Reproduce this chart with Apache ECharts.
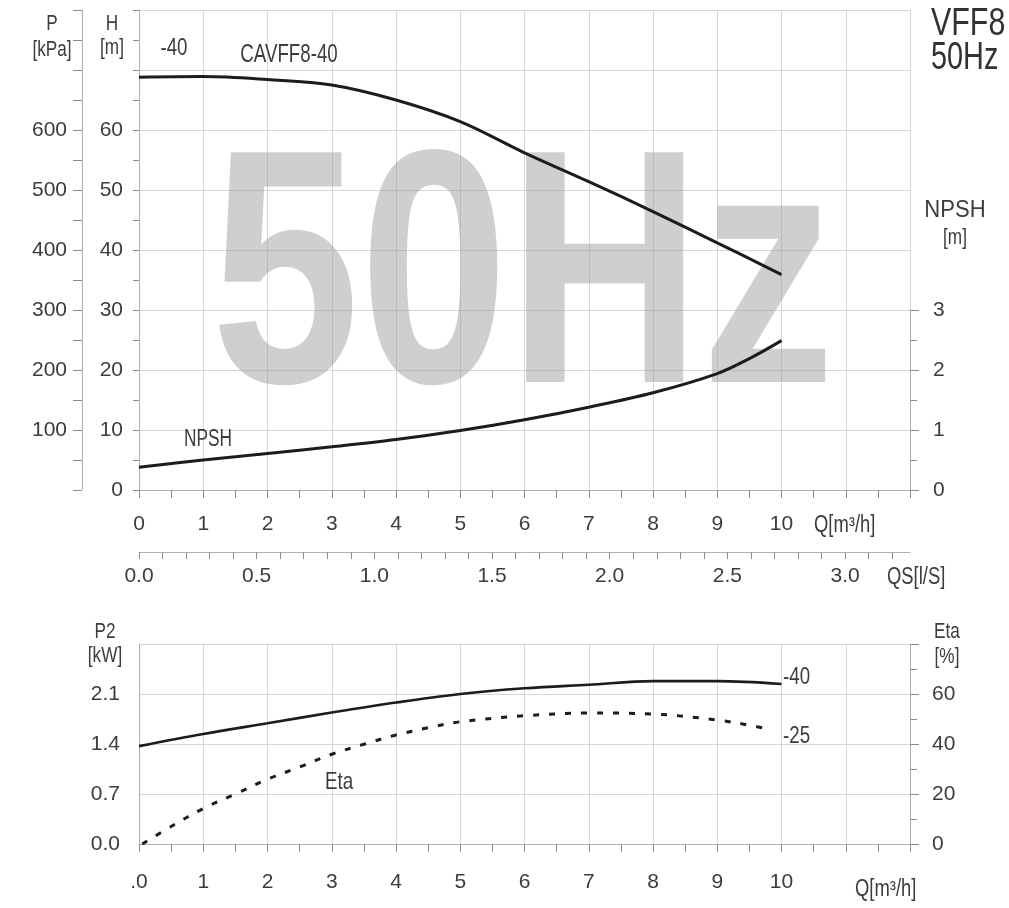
<!DOCTYPE html>
<html>
<head>
<meta charset="utf-8">
<script src="https://cdn.jsdelivr.net/npm/echarts@6/dist/echarts.min.js"></script>
<style>html,body{margin:0;padding:0;background:#fff;}#c{width:1009px;height:908px;}</style>
</head>
<body>
<div id="c"></div>
<script>
// ---- data ----
const Q_TICKS = [0,1,2,3,4,5,6,7,8,9,10];
const H_Q = [0,1,2,3,4,5,6,7,8,9,10];
const H_VAL = [68.8, 68.9, 68.4, 67.5, 65.0, 61.4, 56.2, 51.4, 46.4, 41.2, 35.9];
const NPSH_Q = [0,1,2,3,4,5,6,7,8,9,9.5,10];
const NPSH_VAL = [0.38, 0.50, 0.61, 0.72, 0.84, 0.99, 1.17, 1.38, 1.62, 1.94, 2.19, 2.49];
const P2_Q = [0,1,2,3,4,5,6,7,8,9,10];
const P2_VAL = [1.37, 1.54, 1.69, 1.84, 1.98, 2.10, 2.18, 2.23, 2.28, 2.28, 2.24];
const ETA_Q = [0.05, 0.5, 1, 1.5, 2, 2.5, 3, 3.5, 4, 4.5, 5, 6, 7, 8, 9, 9.5, 9.8];
const ETA_VAL = [0, 7, 14.2, 20, 25.9, 30.8, 35.9, 39.9, 43.6, 46.5, 48.9, 51.3, 52.4, 52.0, 49.6, 47.5, 45.9];
const P_LABELS = [100,200,300,400,500,600];
const H_LABELS = [0,10,20,30,40,50,60];
const NPSH_LABELS = [0,1,2,3];
const QS_LABELS = [0,0.5,1.0,1.5,2.0,2.5,3.0];
const P2_LABELS = [0,0.7,1.4,2.1];
const ETA_LABELS = [0,20,40,60];

const pair = (xs, ys) => xs.map((x,i)=>[x, ys[i]]);
const near = (v, arr) => arr.some(a => Math.abs(a - v) < 1e-6);

const FONT = "'Liberation Sans', Arial, sans-serif";
const TXT = '#3c3c3c';
const GRIDC = '#d6d6d6';
const AXC = '#b0b0b0';
const TICKC = '#8c8c8c';
const LBL = {color: TXT, fontSize: 21, fontFamily: FONT};

function txt(text, x, y, opt) {
  opt = opt || {};
  return {
    type: 'text', x: x, y: y, z: opt.z !== undefined ? opt.z : 50,
    scaleX: opt.sx || 0.78, scaleY: 1,
    style: {
      text: text, fill: opt.fill || TXT,
      font: (opt.weight || 'normal') + ' ' + (opt.size || 22) + 'px ' + FONT,
      align: opt.align || 'center', verticalAlign: 'middle'
    }
  };
}

const chart = echarts.init(document.getElementById('c'), null, {renderer: 'canvas'});
const option = {
  backgroundColor: '#fff',
  animation: false,
  grid: [
    {left: 139, top: 10, width: 771, height: 480},
    {left: 139, top: 310, width: 771, height: 180},
    {left: 139, top: 644, width: 771, height: 200}
  ],
  xAxis: [
    { // Q top
      type: 'value', gridIndex: 0, min: 0, max: 12, interval: 1, position: 'bottom',
      axisLine: {show: true, lineStyle: {color: AXC}},
      axisTick: {show: true, length: 8, lineStyle: {color: TICKC}},
      minorTick: {show: true, splitNumber: 2, length: 8, lineStyle: {color: TICKC}},
      splitLine: {show: true, lineStyle: {color: GRIDC, width: 1}},
      axisLabel: Object.assign({margin: 24, formatter: v => near(v, Q_TICKS) ? String(v) : ''}, LBL)
    },
    { // QS l/s
      type: 'value', gridIndex: 0, min: 0, max: 3.276, interval: 0.1, position: 'bottom', offset: 62,
      axisLine: {show: true, onZero: false, lineStyle: {color: AXC}},
      axisTick: {show: true, length: 7, lineStyle: {color: TICKC}},
      splitLine: {show: false},
      axisLabel: Object.assign({margin: 14, showMaxLabel: false, formatter: v => near(v, QS_LABELS) ? v.toFixed(1) : ''}, LBL)
    },
    { // hidden x for NPSH grid
      type: 'value', gridIndex: 1, min: 0, max: 12, show: false
    },
    { // Q bottom
      type: 'value', gridIndex: 2, min: 0, max: 12, interval: 1, position: 'bottom',
      axisLine: {show: true, lineStyle: {color: AXC}},
      axisTick: {show: true, length: 8, lineStyle: {color: TICKC}},
      minorTick: {show: true, splitNumber: 2, length: 8, lineStyle: {color: TICKC}},
      splitLine: {show: true, lineStyle: {color: GRIDC, width: 1}},
      axisLabel: Object.assign({margin: 28, formatter: v => v === 0 ? '.0' : (near(v, Q_TICKS) ? String(v) : '')}, LBL)
    }
  ],
  yAxis: [
    { // H
      type: 'value', gridIndex: 0, min: 0, max: 80, interval: 10, position: 'left',
      axisLine: {show: true, onZero: false, lineStyle: {color: AXC}},
      axisTick: {show: true, length: 6, lineStyle: {color: TICKC}},
      minorTick: {show: true, splitNumber: 2, length: 6, lineStyle: {color: TICKC}},
      splitLine: {show: true, lineStyle: {color: GRIDC, width: 1}},
      axisLabel: Object.assign({margin: 16, formatter: v => near(v, H_LABELS) ? String(v) : ''}, LBL)
    },
    { // P kPa
      type: 'value', gridIndex: 0, min: 0, max: 800, interval: 50, position: 'left', offset: 57,
      axisLine: {show: true, onZero: false, lineStyle: {color: AXC}},
      axisTick: {show: true, length: 9, lineStyle: {color: TICKC}},
      splitLine: {show: false},
      axisLabel: Object.assign({margin: 15, formatter: v => near(v, P_LABELS) ? String(v) : ''}, LBL)
    },
    { // NPSH
      type: 'value', gridIndex: 1, min: 0, max: 3, interval: 1, position: 'right',
      axisLine: {show: true, onZero: false, lineStyle: {color: AXC}},
      axisTick: {show: true, length: 9, lineStyle: {color: TICKC}},
      minorTick: {show: true, splitNumber: 2, length: 7, lineStyle: {color: TICKC}},
      splitLine: {show: false},
      axisLabel: Object.assign({margin: 23, formatter: v => near(v, NPSH_LABELS) ? String(v) : ''}, LBL)
    },
    { // P2
      type: 'value', gridIndex: 2, min: 0, max: 2.8, interval: 0.7, position: 'left',
      axisLine: {show: true, onZero: false, lineStyle: {color: AXC}},
      axisTick: {show: false},
      splitLine: {show: true, lineStyle: {color: GRIDC, width: 1}},
      axisLabel: Object.assign({margin: 19, formatter: v => near(v, P2_LABELS) ? v.toFixed(1) : ''}, LBL)
    },
    { // Eta
      type: 'value', gridIndex: 2, min: 0, max: 80, interval: 20, position: 'right',
      axisLine: {show: true, onZero: false, lineStyle: {color: AXC}},
      axisTick: {show: true, length: 9, lineStyle: {color: TICKC}},
      minorTick: {show: true, splitNumber: 2, length: 7, lineStyle: {color: TICKC}},
      splitLine: {show: false},
      axisLabel: Object.assign({margin: 22, formatter: v => near(v, ETA_LABELS) ? String(v) : ''}, LBL)
    }
  ],
  series: [
    {name: 'CAVFF8-40', type: 'line', xAxisIndex: 0, yAxisIndex: 0, data: pair(H_Q, H_VAL),
     smooth: 0.35, symbol: 'none', lineStyle: {color: '#1c1c1c', width: 3}, z: 5},
    {name: 'NPSH', type: 'line', xAxisIndex: 2, yAxisIndex: 2, data: pair(NPSH_Q, NPSH_VAL),
     smooth: 0.35, symbol: 'none', lineStyle: {color: '#1c1c1c', width: 3}, z: 5},
    {name: 'P2', type: 'line', xAxisIndex: 3, yAxisIndex: 3, data: pair(P2_Q, P2_VAL),
     smooth: 0.35, symbol: 'none', lineStyle: {color: '#1c1c1c', width: 2.6}, z: 5},
    {name: 'Eta', type: 'line', xAxisIndex: 3, yAxisIndex: 4, data: pair(ETA_Q, ETA_VAL),
     smooth: 0.35, symbol: 'none', lineStyle: {color: '#1c1c1c', width: 3, type: [6, 10]}, z: 5}
  ],
  graphic: [
    // watermark
    {type: 'text', x: 211, y: 290, z: 1, scaleX: 0.8,
     style: {text: '50Hz', font: 'bold 334px ' + FONT, fill: 'rgba(150,150,150,0.46)', align: 'left', verticalAlign: 'middle'}},
    txt('P', 52, 24), txt('[kPa]', 52, 50),
    txt('H', 112, 24), txt('[m]', 112, 48),
    txt('-40', 174, 48, {size: 24}), txt('CAVFF8-40', 289, 55, {size: 26, sx: 0.72}),
    txt('NPSH', 208, 440, {size: 23, sx: 0.75}),
    txt('VFF8', 931, 25, {size: 38, align: 'left', sx: 0.8, fill: '#333'}),
    txt('50Hz', 931, 59, {size: 38, align: 'left', sx: 0.76, fill: '#333'}),
    txt('NPSH', 955, 210, {size: 24, sx: 0.92}), txt('[m]', 955, 238),
    txt('Q[m³/h]', 814, 526, {size: 23, align: 'left', sx: 0.8}),
    txt('QS[l/S]', 887, 578, {size: 23, align: 'left', sx: 0.8}),
    txt('P2', 105, 632), txt('[kW]', 105, 656),
    txt('Eta', 947, 632), txt('[%]', 947, 657),
    txt('-40', 783, 677, {size: 24, align: 'left'}),
    txt('-25', 783, 736, {size: 24, align: 'left'}),
    txt('Eta', 339, 782, {size: 24}),
    txt('Q[m³/h]', 855, 890, {size: 23, align: 'left', sx: 0.8})
  ]
};
chart.setOption(option);
</script>
</body>
</html>
